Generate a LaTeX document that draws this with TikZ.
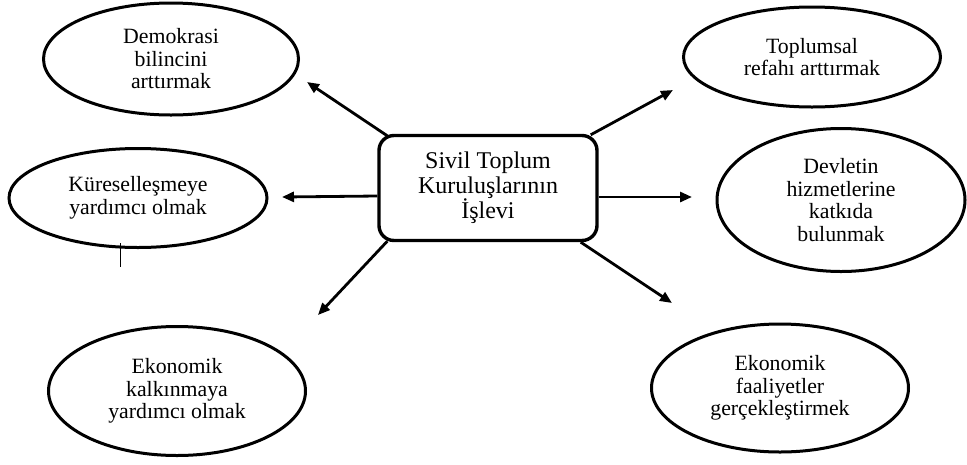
\documentclass[tikz,border=0pt]{standalone}
\usepackage{fontspec}
\setmainfont{Liberation Serif}
\usepackage{tikz}
\usetikzlibrary{shapes.geometric,arrows.meta,calc}

\begin{document}
\begin{tikzpicture}[x=1pt,y=-1pt,
  goal/.style={draw,ellipse,line width=3pt,inner sep=0pt,align=center,font=\fontsize{21.8}{22.5}\selectfont},
  hub/.style={draw,rounded corners=15pt,line width=3.4pt,inner sep=0pt,align=center,font=\fontsize{24}{24.5}\selectfont},
  arr/.style={-{Triangle[length=12pt,width=10pt]},line width=2.8pt}]
\useasboundingbox (0,0) rectangle (967,464);
% centre
\node[hub,minimum width=218pt,minimum height=105pt] (stk) at (488,188) {Sivil Toplum\\Kuruluşlarının\\İşlevi};
% left side
\node[goal,minimum width=255pt,minimum height=112pt] (demo) at (171,59) {Demokrasi\\bilincini\\arttırmak};
\node[goal,minimum width=258pt,minimum height=99pt] (kure) at (138,198) {Küreselleşmeye\\yardımcı olmak};
\node[goal,minimum width=257pt,minimum height=129pt] (ekal) at (177,391) {Ekonomik\\kalkınmaya\\yardımcı olmak};
% right side
\node[goal,minimum width=257pt,minimum height=100pt] (topl) at (812,57) {Toplumsal\\refahı arttırmak};
\node[goal,minimum width=248pt,minimum height=143pt] (devl) at (841,200) {Devletin\\hizmetlerine\\katkıda\\bulunmak};
\node[goal,minimum width=257pt,minimum height=128pt] (ekfa) at (780,388) {Ekonomik\\faaliyetler\\gerçekleştirmek};
% arrow ends
\coordinate (tdemo) at (307,82);
\coordinate (tkure) at (282,197);
\coordinate (tekal) at (318,315);
\coordinate (ttopl) at (673,90);
\coordinate (tdevl) at (692,197);
\coordinate (tekfa) at (672,303);
\draw[arr] ([shift={(10,2)}]stk.north west) -- (tdemo);
\draw[arr] ([shift={(0,8)}]stk.west) -- (tkure);
\draw[arr] ([shift={(10,-1)}]stk.south west) -- (tekal);
\draw[arr] ([shift={(-8,1)}]stk.north east) -- (ttopl);
\draw[arr] ([shift={(0,9)}]stk.east) -- (tdevl);
\draw[arr] ([shift={(-18,0)}]stk.south east) -- (tekfa);
% stray mark
\draw[line width=0.8pt] (120,243) -- (120,267);
\end{tikzpicture}
\end{document}
